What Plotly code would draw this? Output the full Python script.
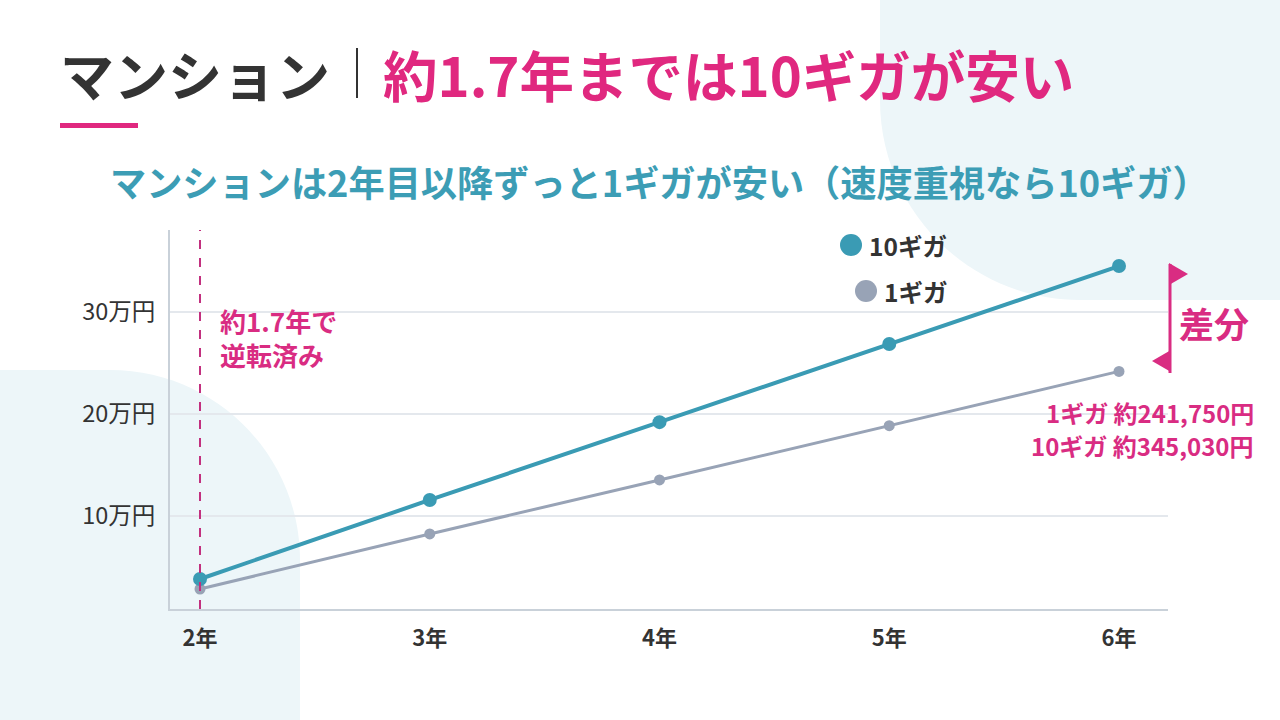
import plotly.graph_objects as go

# ---- data ----
years = [2, 3, 4, 5, 6]
year_labels = ["2年", "3年", "4年", "5年", "6年"]
ten_giga = [38200, 115700, 192000, 268600, 345030]
one_giga = [28400, 82400, 135300, 188500, 241750]
y_ticks = [100000, 200000, 300000]
y_tick_labels = ["10万円", "20万円", "30万円"]
series_names = ["10ギガ", "1ギガ"]

# ---- style ----
FONT = "Noto Sans CJK JP"
TEAL = "#3A9BB4"
GREY = "#98A3B6"
MAG = "#D92C82"
TITLE_MAG = "#E0287F"
DARK = "#333333"
BG = "#EDF6F9"

W, H = 1280, 720
L, R, T, B = 170, 1168, 230, 609


def px(x):
    return (x - L) / (R - L)


def py(y):
    return (B - y) / (B - T)


def path(points):
    out = []
    for cmd, *pts in points:
        if cmd == "Z":
            out.append("Z")
            continue
        coords = []
        for (x, y) in pts:
            coords.append(f"{px(x):.5f},{py(y):.5f}")
        out.append(cmd + " " + " ".join(coords))
    return " ".join(out)


k = 0.5523
fig = go.Figure()

fig.add_trace(go.Scatter(x=years, y=one_giga, mode="lines+markers", name=series_names[1],
                         line=dict(color=GREY, width=3), marker=dict(size=11, color=GREY),
                         showlegend=False, cliponaxis=False))
fig.add_trace(go.Scatter(x=years, y=ten_giga, mode="lines+markers", name=series_names[0],
                         line=dict(color=TEAL, width=4), marker=dict(size=14, color=TEAL),
                         showlegend=False, cliponaxis=False))

shapes = []
# background decorations
r1 = 200
shapes.append(dict(type="path", xref="paper", yref="paper", layer="below", fillcolor=BG, line=dict(width=0),
                   path=path([("M", (880, 0)), ("L", (1280, 0)), ("L", (1280, 300)), ("L", (880 + r1, 300)),
                              ("C", (880 + r1 - k * r1, 300), (880, 300 - r1 + k * r1), (880, 300 - r1)), ("Z",)])))
r2 = 190
shapes.append(dict(type="path", xref="paper", yref="paper", layer="below", fillcolor=BG, line=dict(width=0),
                   path=path([("M", (0, 370)), ("L", (300 - r2, 370)),
                              ("C", (300 - r2 + k * r2, 370), (300, 370 + r2 - k * r2), (300, 370 + r2)),
                              ("L", (300, 720)), ("L", (0, 720)), ("Z",)])))
# title underline & separator
shapes.append(dict(type="rect", xref="paper", yref="paper", x0=px(60), x1=px(138), y0=py(123), y1=py(128),
                   fillcolor=TITLE_MAG, line=dict(width=0)))
shapes.append(dict(type="line", xref="paper", yref="paper", x0=px(357), x1=px(357), y0=py(48), y1=py(98),
                   line=dict(color=DARK, width=2)))
# dashed reversal line
shapes.append(dict(type="line", xref="x", yref="paper", x0=2, x1=2, y0=0, y1=1,
                   line=dict(color="#C2307F", width=2, dash="dash")))
# legend markers
for (cx, cy, col) in [(851, 245, TEAL), (866, 291, GREY)]:
    shapes.append(dict(type="circle", xref="paper", yref="paper", x0=px(cx - 11), x1=px(cx + 11),
                       y0=py(cy + 11), y1=py(cy - 11), fillcolor=col, line=dict(width=0)))
# difference marker
shapes.append(dict(type="line", xref="paper", yref="paper", x0=px(1170), x1=px(1170), y0=py(264), y1=py(373),
                   line=dict(color=MAG, width=3)))
shapes.append(dict(type="path", xref="paper", yref="paper", fillcolor=MAG, line=dict(width=0),
                   path=path([("M", (1169, 263)), ("L", (1188, 274)), ("L", (1169, 285)), ("Z",)])))
shapes.append(dict(type="path", xref="paper", yref="paper", fillcolor=MAG, line=dict(width=0),
                   path=path([("M", (1171, 350)), ("L", (1152, 361)), ("L", (1171, 372)), ("Z",)])))

ann = []


def text(x, y, s, size, color, xanchor="left", yanchor="middle", bold=True):
    ann.append(dict(xref="paper", yref="paper", x=px(x), y=py(y), text=(f"<b>{s}</b>" if bold else s),
                    showarrow=False, xanchor=xanchor, yanchor=yanchor,
                    font=dict(family=FONT, size=size, color=color)))


text(58, 73, "マンション", 54, DARK)
text(381, 73, "約1.7年までは10ギガが安い", 54.5, TITLE_MAG)
text(659, 181, "マンションは2年目以降ずっと1ギガが安い（速度重視なら10ギガ）", 36.2, "#3C9DB5", xanchor="center")
text(218, 320, "約1.7年で", 26, MAG)
text(218, 354, "逆転済み", 26, MAG)
text(867, 245, series_names[0], 24.5, DARK)
text(882, 291, series_names[1], 24.5, DARK)
text(1177, 322, "差分", 35, MAG)
text(1256, 412, "1ギガ 約241,750円", 24, MAG, xanchor="right")
text(1256, 445, "10ギガ 約345,030円", 24, MAG, xanchor="right")

fig.update_layout(
    width=W, height=H,
    margin=dict(l=L, r=W - R, t=T, b=H - B, pad=0),
    paper_bgcolor="white", plot_bgcolor="rgba(0,0,0,0)",
    font=dict(family=FONT, color=DARK),
    shapes=shapes, annotations=ann, showlegend=False,
    xaxis=dict(range=[2 - 30 / 229.75, 6 + 49 / 229.75], tickvals=years,
               ticktext=[f"<b>{t}</b>" for t in year_labels], showgrid=False, zeroline=False,
               showline=True, linecolor="#C9D1D9", linewidth=2, ticks="", ticklabelstandoff=9,
               tickfont=dict(family=FONT, size=22, color=DARK)),
    yaxis=dict(range=[8800, 380400], tickvals=y_ticks, ticktext=y_tick_labels, showgrid=True,
               gridcolor="#E4E8ED", gridwidth=1.5, zeroline=False, showline=True, linecolor="#C9D1D9",
               linewidth=2, ticks="", ticklabelstandoff=8,
               tickfont=dict(family=FONT, size=23.5, color=DARK)),
)

fig.write_html("out.html")
